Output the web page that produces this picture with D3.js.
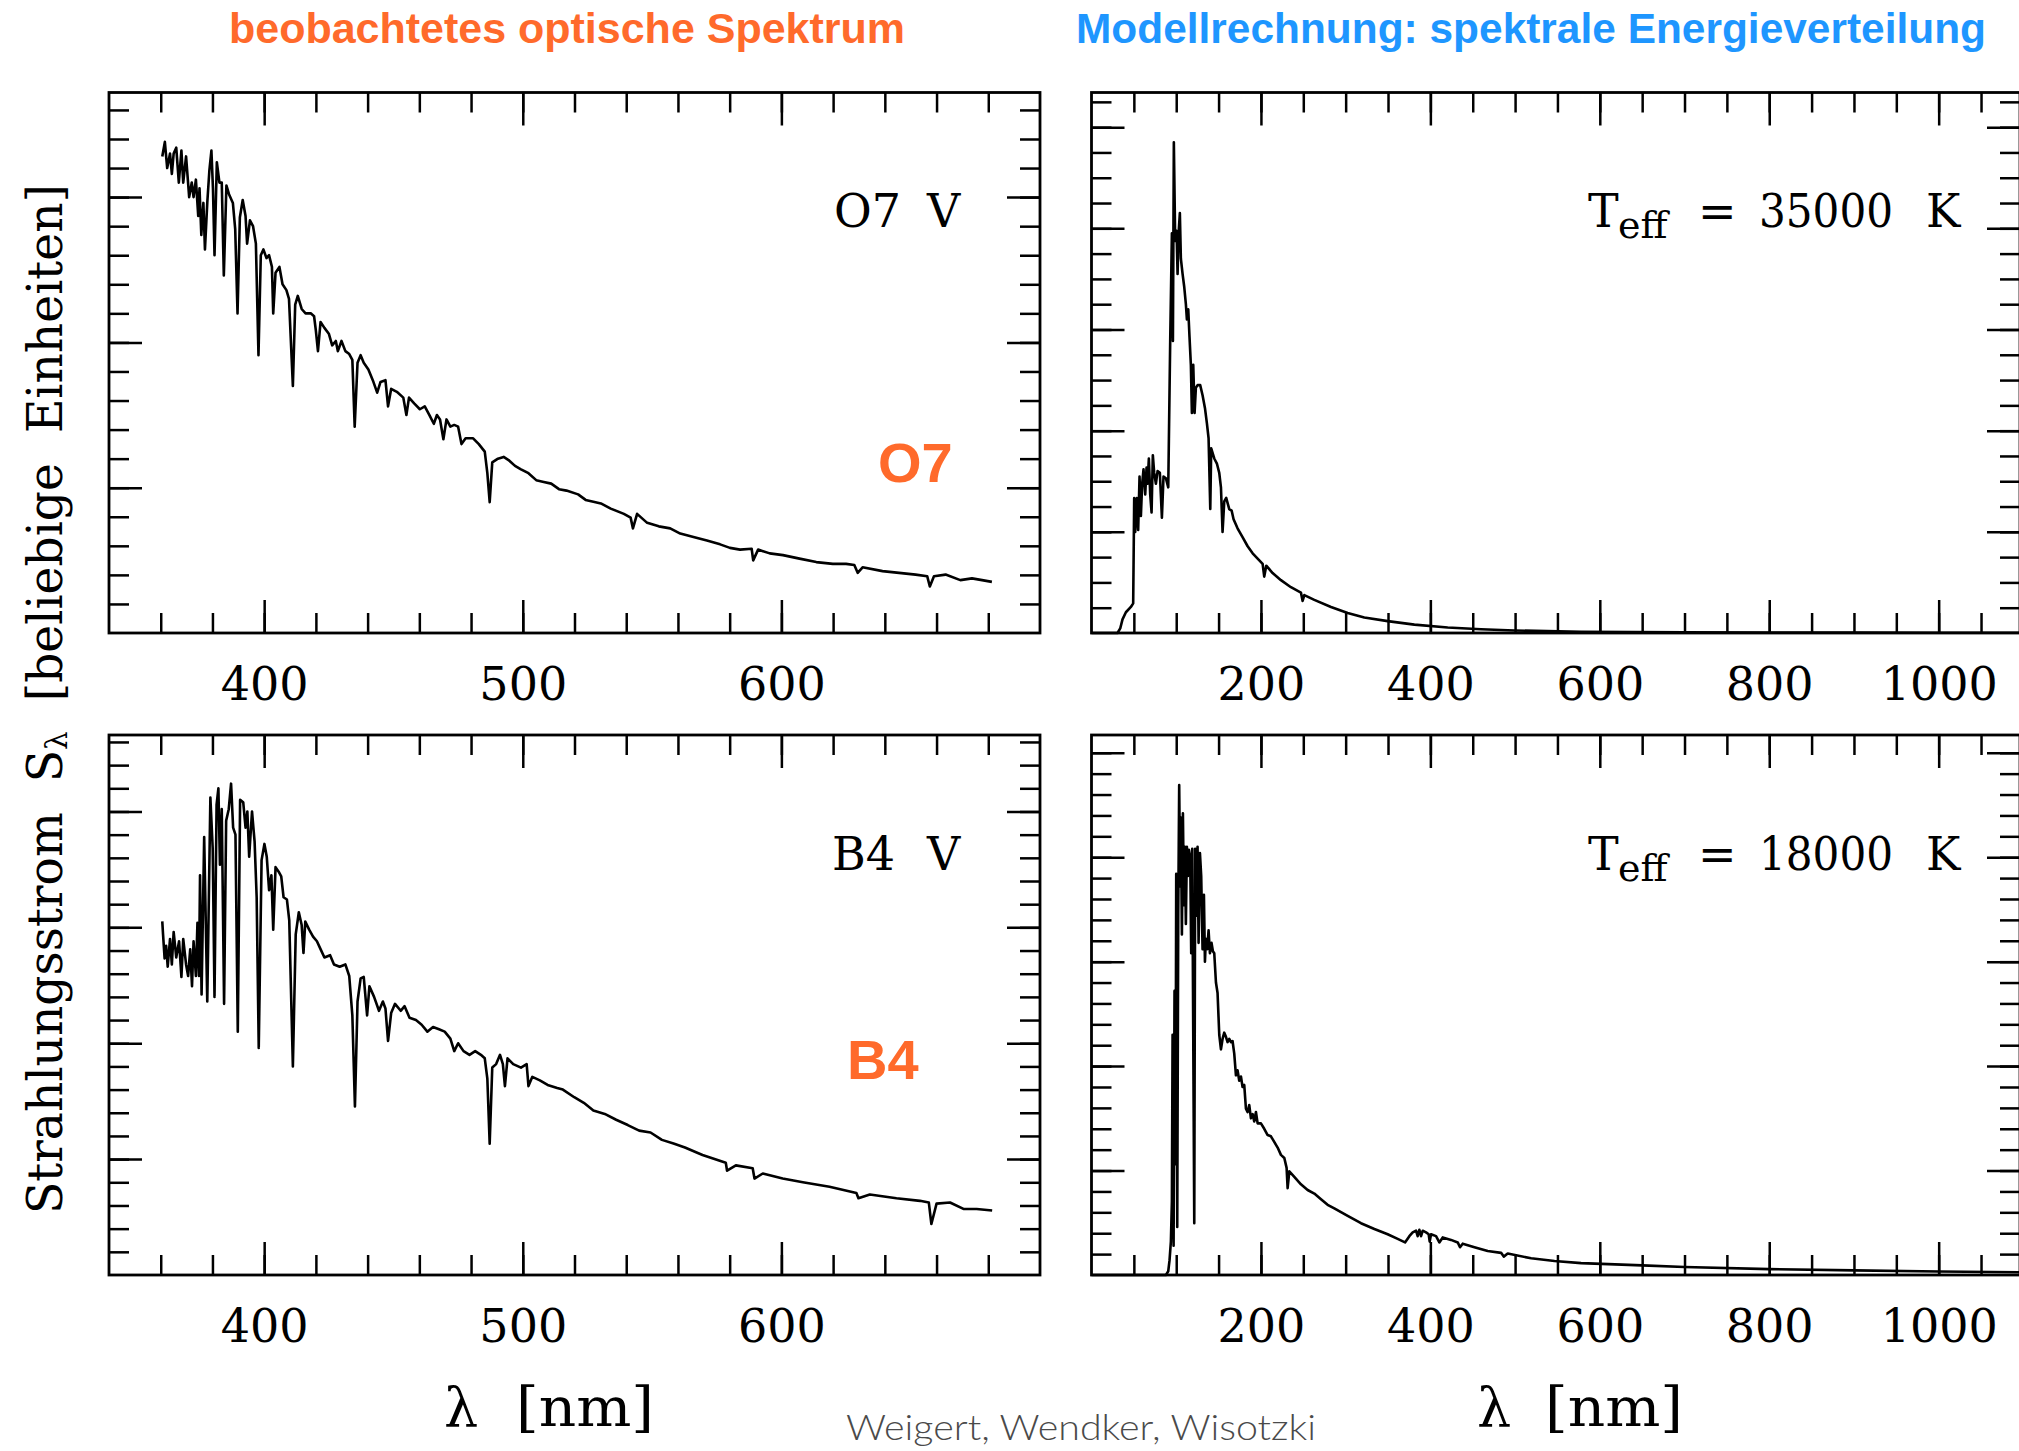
<!DOCTYPE html>
<html>
<head>
<meta charset="utf-8">
<script src="https://cdn.jsdelivr.net/npm/d3@7"></script>
<style>
  body { margin: 0; background: #fff; }
  svg { display: block; }
</style>
</head>
<body>
<svg width="2019" height="1451"></svg>
<script>
// observed O7 V spectrum (nm, arbitrary units)
var o7Wave = [360.6,361.6,362.5,363.6,364.3,365,366,367,368,368.7,369.8,371,372,372.7,373.6,374.5,375,375.7,376.5,377.1,378,378.8,379.6,380.2,380.8,381.7,382.7,383.6,384.4,385.4,386.4,387.9,388.8,389.7,390.6,391.7,392.8,393.4,394.5,395.7,396.8,397.8,398.7,399.7,400.9,401.9,403,403.5,404.4,405.9,407.1,408.6,409.6,411.1,412,413,414.5,416,418,419.3,420,420.8,421.8,423.3,425,426.3,427.7,428.5,429.9,431.4,432.9,434.1,435,436.1,437.3,438.5,440.3,442,443.7,445,446.9,447.9,449.1,451.3,453.8,455,456,458,460.2,462.1,463.9,465.6,466.8,468,469.3,470.5,472,473.5,475,476.3,477.9,480.8,483,485.3,486.3,487.2,488.2,490.4,492.6,494.8,497,499.3,502.2,505.2,508.1,511,514,516.9,521.4,524.3,527.3,530.2,534,539.1,541.7,542.6,544.2,548.1,552.6,557,560.9,566,571.2,576.3,580.1,584,588.5,589.1,591,595.5,600.6,607,613.5,619.9,625,628.2,629.5,631.4,639.1,645.5,651.9,656.4,657.4,659,663.5,669.2,673.7,677.6,681.4];
var o7Flux = [16.4,16.9,16.0,16.5,15.8,16.5,16.7,15.5,16.6,15.5,16.4,15.0,15.5,15.0,15.6,14.35,15.3,13.7,14.8,13.2,14.8,15.9,16.6,15.3,13.0,16.2,15.5,15.5,12.3,15.4,15.1,14.8,13.9,11.0,14.3,14.9,14.35,13.4,14.2,14.0,13.4,9.56,13.0,13.2,12.9,13.0,12.6,11.0,12.4,12.6,12.0,11.8,11.5,8.5,11.3,11.6,11.15,11.0,11.0,10.9,10.4,9.7,10.7,10.5,10.3,9.9,10.05,9.7,10.05,9.7,9.6,9.4,7.1,9.3,9.56,9.3,9.07,8.7,8.27,8.64,8.7,7.8,8.4,8.3,8.1,7.5,8.1,7.9,7.7,7.8,7.5,7.2,7.5,7.35,6.67,7.35,7.1,7.16,7.1,6.5,6.7,6.7,6.5,6.24,5.5,4.5,5.87,6.0,6.06,5.93,5.75,5.63,5.5,5.26,5.2,5.14,4.95,4.9,4.77,4.58,4.52,4.46,4.28,4.1,3.97,3.6,4.1,3.79,3.67,3.6,3.42,3.3,3.18,3.05,2.93,2.87,2.9,2.5,2.87,2.74,2.68,2.56,2.44,2.38,2.38,2.34,2.07,2.26,2.13,2.07,2.01,1.95,1.6,1.95,2.01,1.82,1.88,1.82,1.76];

// observed B4 V spectrum
var b4Wave = [360.6,360.9,361.5,362.1,362.7,363.6,364.3,365,366,367.1,368,368.7,369.8,370.6,371.4,372.1,372.7,373.6,374.2,374.8,375.2,375.8,376.8,378,379.2,380.1,380.8,381.6,382.3,382.9,383.6,384.5,385.3,386.3,387.2,388,388.9,389.8,390.7,391.9,392.8,393.5,394.2,395.3,396.3,397.1,397.9,399,400.1,401,401.9,402.8,403.5,404.4,405.6,406.6,407.5,408.8,409.7,411.1,412.2,413.4,414.5,415.2,415.9,417.4,418.9,420.4,421.8,423.3,425.5,427,429.2,431.4,432.9,434.1,435.1,436.1,437.3,438.5,439.8,440.7,442.5,444.4,445.9,446.9,447.9,449.1,450.6,452.8,454.3,456.2,458.7,460.9,463.1,465.3,467.6,469.8,472,473.5,475,477.1,479.4,481.6,483.8,485.3,486.3,487.2,488.2,489.7,491.2,492.3,493.1,494.1,496.3,499.3,501.5,502.2,503.7,506.6,509.6,513.3,515.5,519.9,523.6,527.3,531.7,536.1,540.6,545,549.4,553.8,558.3,562.7,569.5,578.5,579,582.4,588.9,589.6,592.8,600.5,608.3,618.6,629,629.8,634.2,644.5,653.6,657,658,660,665.2,670.4,675.5,681.5];
var b4Flux = [15.26,14.7,13.66,14.2,13.3,14.5,13.4,14.8,13.7,14.4,12.86,14.5,13.4,12.9,14.05,12.46,14.4,12.9,15.2,12.9,17.25,12.1,18.9,11.8,20.6,18.4,12.0,20.3,21.0,17.7,20.1,11.7,19.6,20.1,21.2,19.3,19.0,10.5,20.5,20.4,19.3,20.0,18.05,20.0,18.7,16.3,9.8,17.9,18.6,18.05,16.6,17.25,14.9,17.6,17.4,17.2,16.3,16.2,15.3,9.0,14.7,15.65,15.1,13.9,15.25,14.9,14.6,14.4,14.06,13.7,13.8,13.4,13.3,13.4,12.9,11.2,7.27,11.8,12.8,12.86,11.2,12.46,12.0,11.4,11.8,11.5,10.1,11.3,11.7,11.4,11.6,11.1,11.0,10.8,10.5,10.7,10.6,10.5,10.2,9.66,10.0,9.66,9.5,9.66,9.5,9.35,8.47,5.67,8.95,9.1,9.5,9.1,8.15,9.35,9.1,8.95,9.1,8.15,8.55,8.4,8.2,8.07,8.0,7.67,7.43,7.1,6.95,6.7,6.47,6.23,6.15,5.83,5.67,5.5,5.18,4.84,4.5,4.73,4.61,4.16,4.38,4.16,4.0,3.81,3.54,3.31,3.47,3.31,3.2,3.13,2.2,3.08,3.13,2.85,2.85,2.78];

// model spectrum, Teff = 35000 K
var t35Wave = [0,30.7,33.9,36.6,40.6,46.5,49.2,50.4,51.6,53.5,55.1,56.7,58.3,59.8,61.4,63.4,65,66.1,67.7,69.3,70.9,72.4,74,76,78,80.7,83.1,85,87.8,90.6,92.9,94.9,96.1,97.2,98.8,100.4,101.6,102.8,104.3,105.5,107.5,109.4,111.4,112.6,114.2,115.7,117.3,118.5,120.1,121.7,123.2,125.2,128.3,131.1,133.9,136.2,138.2,140.2,141.3,144.9,148,150.8,152.8,154.7,156.7,159,162.6,165.4,167.7,172.4,178.3,184.3,190.2,196.1,202,203.9,206.3,213.8,223.6,235.4,247.2,249.2,251.2,263,282.7,302.4,322,349.6,381.1,420.5,459.8,499.2,577.9,700,800,900,1000,1096];
var t35Flux = [0,0,0.18,0.54,0.82,1.03,1.17,5.34,4.0,5.34,4.07,6.19,4.63,5.9,6.47,5.48,6.54,5.9,6.9,5.48,4.77,7.03,6.33,5.9,6.4,6.33,4.56,6.19,6.12,5.76,11.55,15.8,11.55,19.4,15.5,15.9,14.2,15.8,16.6,14.8,14.2,13.7,13.0,12.4,12.8,11.7,10.6,8.7,10.6,8.7,9.7,9.8,9.8,9.4,8.9,8.3,7.7,4.9,7.3,6.9,6.7,6.33,5.76,4.0,5.2,5.34,4.9,4.84,4.5,4.14,3.79,3.43,3.15,2.94,2.73,2.23,2.66,2.37,2.09,1.81,1.6,1.27,1.5,1.31,1.03,0.79,0.61,0.47,0.33,0.22,0.15,0.1,0.05,0.03,0.02,0.015,0.01,0.008];

// model spectrum, Teff = 18000 K
var t18Wave = [0,87.8,90.6,92.1,93.7,94.9,95.7,96.9,98,99.2,100,101.2,102.4,103.5,104.7,105.5,106.7,107.9,109.1,110.2,111.4,112.6,113.8,115,116.5,117.7,118.9,121.3,122.4,123.6,125.2,126.4,128,129.5,131.1,132.7,133.9,135,136.6,138.2,139.8,141.7,143.3,144.9,146.9,148.8,150.8,152.8,154.7,156.7,158.7,160.6,162.6,164.6,166.5,168.5,170.5,172.4,174.4,176.4,178.3,180.3,182.3,184.3,186.2,188.2,190.2,192.1,194.1,196.1,200,203.9,207.9,211.8,215.7,219.7,223.6,227.6,230.3,231.5,233.5,239.4,247.2,255.1,263,270.9,278.7,286.6,302.4,318.1,333.9,349.6,361.4,370.1,375.2,379.1,383.1,385,387,389,391,394.9,398,399.2,400.8,406.7,410.6,414.6,424.4,432.3,435,438.2,452,467.7,483.5,486.6,491.3,518.9,546.5,577.9,650,700,800,900,1000,1096];
var t18Flux = [0,0,0.18,0.7,1.6,3.54,11.5,1.4,13.6,5.3,19.2,2.3,17.3,23.45,18.6,21.9,16.3,22.1,17.7,20.5,16.8,20.5,19.1,20.35,20.0,15.4,20.4,2.48,20.4,17.2,20.5,15.9,20.2,19.1,15.6,18.2,15.0,16.1,15.6,16.5,15.4,15.9,15.5,15.4,14.0,13.5,11.5,10.8,11.3,11.6,11.4,11.15,11.3,11.15,11.2,10.6,9.56,9.8,9.3,9.5,9.0,9.1,7.96,7.8,8.14,7.5,7.7,7.35,7.8,7.26,7.26,7.0,6.7,6.64,6.37,6.1,5.75,5.6,5.13,4.16,4.96,4.7,4.34,4.07,3.9,3.63,3.36,3.19,2.83,2.48,2.2,1.95,1.73,1.56,1.86,2.04,2.12,1.86,2.16,1.86,2.12,2.04,1.95,1.6,1.95,1.86,1.56,1.8,1.68,1.56,1.33,1.5,1.33,1.15,1.06,0.88,1.03,0.8,0.67,0.57,0.46,0.38,0.28,0.22,0.17,0.13];

var opticalTicks = [400, 500, 600];
var modelTicks = [200, 400, 600, 800, 1000];

var svg = d3.select("svg");
var serif = "'DejaVu Serif', 'Liberation Serif', serif";
var sans = "'Liberation Sans', Arial, Helvetica, sans-serif";
var orange = "#ff6a2b", blue = "#1e96ff";

var panels = [
  {wave: o7Wave, flux: o7Flux, x0: 109, x1: 1040, y0: 92.5, y1: 633, xd: [340, 700], yd: [0, 18.6],
   xMinor: d3.range(360, 700, 20), xMajor: opticalTicks, yMajorStep: 5, labels: opticalTicks},
  {wave: b4Wave, flux: b4Flux, x0: 109, x1: 1040, y0: 735, y1: 1275, xd: [340, 700], yd: [0, 23.3],
   xMinor: d3.range(360, 700, 20), xMajor: opticalTicks, yMajorStep: 5, labels: opticalTicks},
  {wave: t35Wave, flux: t35Flux, x0: 1091.5, x1: 2020, y0: 92.5, y1: 633, xd: [0, 1096], yd: [0, 21.37],
   xMinor: d3.range(50, 1096, 50), xMajor: modelTicks, yMajorStep: 4, labels: modelTicks},
  {wave: t18Wave, flux: t18Flux, x0: 1091.5, x1: 2020, y0: 735, y1: 1275, xd: [0, 1096], yd: [0, 25.85],
   xMinor: d3.range(50, 1096, 50), xMajor: modelTicks, yMajorStep: 5, labels: modelTicks}
];

function tickLayer(axis, tx, ty) {
  svg.append("g")
      .attr("transform", "translate(" + tx + "," + ty + ")")
      .call(axis)
      .call(function(s) {
        s.select(".domain").remove();
        s.selectAll("line").attr("stroke", "#000").attr("stroke-width", 2.5);
      });
}

panels.forEach(function(p) {
  var x = d3.scaleLinear().domain(p.xd).range([p.x0, p.x1]);
  var y = d3.scaleLinear().domain(p.yd).range([p.y1, p.y0]);

  var yMinor = d3.range(1, p.yd[1], 1);
  var yMajor = yMinor.filter(function(v) { return v % p.yMajorStep === 0; });

  // inward ticks on all four sides
  [[p.xMinor, 20], [p.xMajor, 33]].forEach(function(t) {
    tickLayer(d3.axisBottom(x).tickValues(t[0]).tickSize(-t[1]).tickFormat(""), 0, p.y1);
    tickLayer(d3.axisTop(x).tickValues(t[0]).tickSize(-t[1]).tickFormat(""), 0, p.y0);
  });
  [[yMinor, 20], [yMajor, 33]].forEach(function(t) {
    tickLayer(d3.axisLeft(y).tickValues(t[0]).tickSize(-t[1]).tickFormat(""), p.x0, 0);
    tickLayer(d3.axisRight(y).tickValues(t[0]).tickSize(-t[1]).tickFormat(""), p.x1, 0);
  });

  // tick labels
  svg.append("g")
      .attr("transform", "translate(0," + p.y1 + ")")
      .call(d3.axisBottom(x).tickValues(p.labels).tickSize(0).tickPadding(34).tickFormat(d3.format("d")))
      .call(function(s) {
        s.select(".domain").remove();
        s.selectAll("text").attr("font-family", serif).attr("font-size", 46).attr("fill", "#000");
      });

  svg.append("rect")
      .attr("x", p.x0).attr("y", p.y0)
      .attr("width", p.x1 - p.x0).attr("height", p.y1 - p.y0)
      .attr("fill", "none").attr("stroke", "#000").attr("stroke-width", 2.8);

  var line = d3.line()
      .x(function(d) { return x(d[0]); })
      .y(function(d) { return y(d[1]); });

  svg.append("path")
      .datum(d3.zip(p.wave, p.flux))
      .attr("fill", "none")
      .attr("stroke", "#000")
      .attr("stroke-width", 2.6)
      .attr("stroke-linejoin", "round")
      .attr("d", line);
});

// titles
svg.append("text").attr("x", 229).attr("y", 42.5)
    .attr("font-family", sans).attr("font-weight", "bold").attr("font-size", 43)
    .attr("fill", orange).attr("textLength", 676).attr("lengthAdjust", "spacingAndGlyphs")
    .text("beobachtetes optische Spektrum");
svg.append("text").attr("x", 1076).attr("y", 42.5)
    .attr("font-family", sans).attr("font-weight", "bold").attr("font-size", 43)
    .attr("fill", blue).attr("textLength", 910).attr("lengthAdjust", "spacingAndGlyphs")
    .text("Modellrechnung: spektrale Energieverteilung");

// spectral type labels
function plain(x, yb, str, size, len) {
  var t = svg.append("text").attr("x", x).attr("y", yb)
      .attr("font-family", serif).attr("font-size", size).attr("fill", "#000").text(str);
  if (len) t.attr("textLength", len).attr("lengthAdjust", "spacingAndGlyphs");
  return t;
}
plain(834, 227, "O7", 46);
plain(927, 227, "V", 46);
plain(832, 870, "B4", 46);
plain(927, 870, "V", 46);

[[227, "35000"], [870, "18000"]].forEach(function(r) {
  var yb = r[0];
  plain(1588, yb, "T", 46);
  plain(1618, yb + 11, "eff", 38);
  plain(1698, yb, "=", 46);
  plain(1759, yb, r[1], 46, 134);
  plain(1926, yb, "K", 46);
});

svg.append("text").attr("x", 878).attr("y", 482)
    .attr("font-family", sans).attr("font-weight", "bold").attr("font-size", 56)
    .attr("fill", orange).text("O7");
svg.append("text").attr("x", 847).attr("y", 1079)
    .attr("font-family", sans).attr("font-weight", "bold").attr("font-size", 56)
    .attr("fill", orange).text("B4");

// axis titles
plain(444, 1426, "λ", 54);
plain(516, 1426, "[nm]", 54, 138);
plain(1477, 1426, "λ", 54);
plain(1545, 1426, "[nm]", 54, 138);

var ylab = svg.append("text")
    .attr("transform", "translate(62,699) rotate(-90)")
    .attr("text-anchor", "middle")
    .attr("font-family", serif).attr("font-size", 48)
    .attr("textLength", 1030).attr("lengthAdjust", "spacingAndGlyphs")
    .style("white-space", "pre");
ylab.append("tspan").text("Strahlungsstrom  S");
ylab.append("tspan").attr("font-size", 30).attr("dy", 5).text("λ");
ylab.append("tspan").attr("dy", -5).text("  [beliebige  Einheiten]");

// credit
svg.append("text").attr("x", 846).attr("y", 1440)
    .attr("font-family", "Lato, 'Open Sans', sans-serif").attr("font-weight", 300)
    .attr("font-size", 36).attr("fill", "#4a4a4a")
    .attr("textLength", 470).attr("lengthAdjust", "spacingAndGlyphs")
    .text("Weigert, Wendker, Wisotzki");
</script>
</body>
</html>
